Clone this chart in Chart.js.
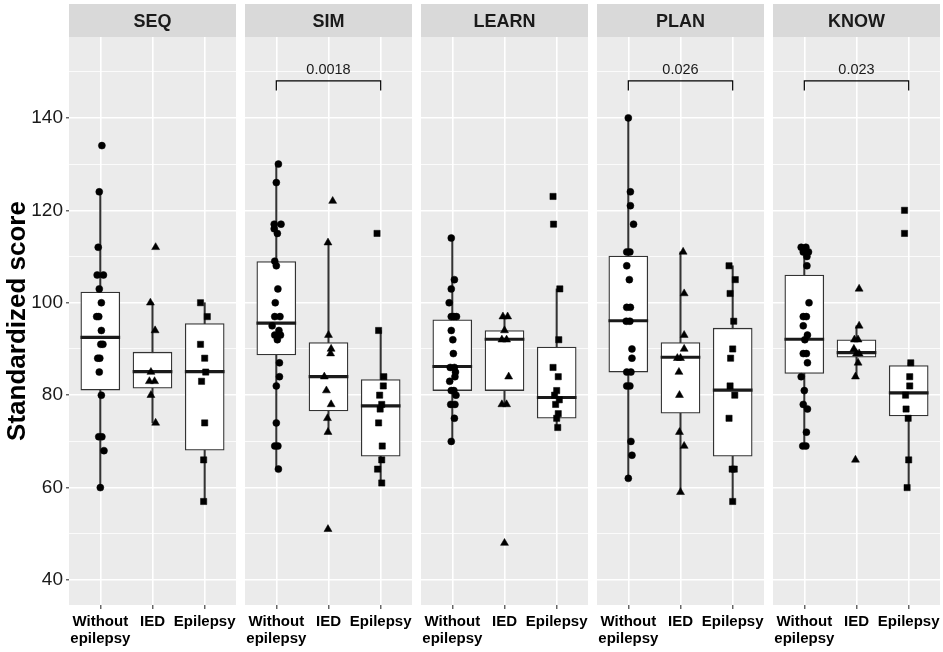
<!DOCTYPE html>
<html lang="en">
<head>
<meta charset="utf-8">
<title>Standardized scores by domain</title>
<script src="https://cdn.jsdelivr.net/npm/chart.js"></script>
<style>
  body { margin: 0; background: #fff; }
  #wrap { position: relative; width: 943px; height: 652px; overflow: hidden; }
  #wrap canvas { position: absolute; top: 0; }
</style>
</head>
<body>
<div id="wrap">
  <canvas id="p0" width="246" height="652" style="left:0px"></canvas>
  <canvas id="p1" width="187" height="652" style="left:235px"></canvas>
  <canvas id="p2" width="187" height="652" style="left:411px"></canvas>
  <canvas id="p3" width="187" height="652" style="left:587px"></canvas>
  <canvas id="p4" width="187" height="652" style="left:763px"></canvas>
</div>
<script>
// facets and groups
const panelNames = ['SEQ', 'SIM', 'LEARN', 'PLAN', 'KNOW'];
const groupLabels = [['Without', 'epilepsy'], 'IED', 'Epilepsy'];
const yTickValues = [40, 50, 60, 70, 80, 90, 100, 110, 120, 130, 140, 150];
const pValues = ['', '0.0018', '', '0.026', '0.023'];
const bracketLevel = 148;

// individual scores per facet, with their horizontal jitter
const withoutScores = [
  [134, 124, 112, 106, 106, 103, 100, 97, 97, 94, 91, 91, 88, 88, 85, 80, 71, 71, 68, 60],
  [130, 126, 117, 117, 116, 115, 109, 108, 103, 100, 97, 97, 95, 94, 93, 93, 92, 87, 84, 82, 74, 69, 69, 64],
  [114, 105, 103, 100, 97, 97, 97, 94, 92, 89, 86, 86, 85, 84, 83, 81, 81, 80, 78, 78, 75, 70],
  [140, 124, 121, 117, 111, 111, 108, 105, 99, 99, 96, 96, 90, 88, 85, 85, 82, 82, 70, 67, 62],
  [112, 112, 111, 111, 110, 108, 100, 97, 97, 95, 93, 92, 89, 89, 87, 84, 81, 78, 77, 72, 69, 69]
];
const withoutJitter = [
  [0.03, -0.02, -0.04, -0.06, 0.06, -0.02, 0.02, -0.07, -0.03, 0.02, 0.05, 0.01, -0.05, -0.01, -0.02, 0.02, -0.03, 0.03, 0.07, 0],
  [0.04, 0, -0.04, 0.09, -0.04, 0.02, -0.03, 0, 0.03, -0.02, -0.03, 0.07, -0.08, 0.05, -0.03, 0.08, 0.02, 0.06, 0.06, 0, 0, -0.03, 0.03, 0.04],
  [-0.02, 0.04, -0.02, -0.06, -0.02, 0.03, 0.08, -0.02, 0.01, 0.02, -0.04, 0.04, 0.06, 0.05, -0.05, -0.02, 0.03, 0.07, -0.03, 0.05, 0.04, -0.02],
  [0, 0.04, 0.04, 0.1, -0.03, 0.03, -0.03, 0.02, -0.03, 0.04, -0.04, 0.03, 0.07, 0.07, -0.03, 0.05, -0.03, 0.03, 0.05, 0.07, 0],
  [-0.06, 0.03, -0.02, 0.08, 0.05, 0.05, 0.09, -0.02, 0.04, -0.02, 0.06, 0.01, -0.02, 0.04, 0.06, -0.06, 0, -0.02, 0.06, 0.04, -0.03, 0.03]
];
const iedScores = [
  [112, 100, 94, 85, 83, 83, 80, 74],
  [122, 113, 93, 90, 89, 84, 81, 78, 75, 72, 51],
  [97, 97, 94, 92, 92, 84, 78, 78, 48],
  [111, 102, 93, 90, 88, 88, 85, 80, 72, 69, 59],
  [103, 95, 92, 92, 90, 89, 89, 87, 84, 66]
];
const iedJitter = [
  [0.06, -0.04, 0.05, -0.03, -0.06, 0.04, -0.03, 0.06],
  [0.08, -0.01, 0, 0.05, 0.04, -0.08, -0.04, 0.05, -0.02, -0.01, -0.01],
  [-0.03, 0.06, 0, -0.05, 0.04, 0.08, -0.05, 0.04, 0],
  [0.05, 0.07, 0.07, 0.07, -0.06, 0, -0.03, -0.02, -0.02, 0.07, 0],
  [0.05, 0.05, -0.04, 0.03, -0.05, 0, 0.05, 0.03, -0.02, -0.02]
];
const epilepsyScores = [
  [100, 97, 91, 88, 85, 83, 74, 66, 57],
  [115, 94, 84, 82, 80, 78, 77, 74, 69, 66, 64, 61],
  [123, 117, 103, 92, 86, 84, 81, 80, 79, 78, 76, 75, 73],
  [108, 105, 102, 96, 90, 88, 82, 80, 75, 64, 64, 57],
  [120, 115, 87, 84, 82, 80, 77, 75, 66, 60]
];
const epilepsyJitter = [
  [-0.08, 0.05, -0.08, 0, 0.02, -0.06, 0, -0.02, -0.02],
  [-0.07, -0.04, 0.06, 0.05, -0.02, 0.02, -0.01, -0.04, 0.03, 0.02, -0.06, 0.02],
  [-0.07, -0.06, 0.06, 0.04, -0.07, 0.03, 0, -0.04, 0.05, -0.02, 0.03, 0, 0.02],
  [-0.07, 0.05, -0.05, 0.02, 0, -0.04, -0.05, 0.04, -0.07, -0.01, 0.03, 0],
  [-0.08, -0.08, 0.04, 0.02, 0.02, -0.06, -0.05, -0.01, 0, -0.03]
];

// box statistics [lower whisker, q1, median, q3, upper whisker]
const withoutBox = [[60, 81.1, 92.5, 102.3, 124], [64, 88.7, 95.6, 108.9, 130], [70, 81, 86.2, 96.3, 114], [62, 85, 96.1, 110.1, 140], [69, 84.7, 92.1, 106, 112]];
const iedBox = [[74, 81.5, 85.1, 89.3, 100], [72, 76.6, 84, 91.4, 113], [78, 81, 92.1, 94, 97], [59, 76.1, 88.2, 91.4, 111], [84, 88.2, 89.2, 92, 95]];
const epilepsyBox = [[57, 68.1, 85.1, 95.5, 100], [61, 66.8, 77.7, 83.4, 94], [73, 75, 79.5, 90.4, 103], [57, 66.8, 81.1, 94.5, 108], [60, 75.5, 80.5, 86.4, 87]];

Chart.defaults.font.family = "'Liberation Sans', Arial, sans-serif";
Chart.defaults.color = '#1a1a1a';

const shapes = ['circle', 'triangle', 'rect'];
const radii = [3.5, 4.6, 4.4];

// grey panel + strip behind everything
const panelBg = {
  id: 'panelBg',
  beforeDraw(chart) {
    const a = chart.chartArea, ctx = chart.ctx;
    ctx.save();
    ctx.fillStyle = '#EBEBEB';
    ctx.fillRect(a.left, a.top, a.right - a.left, a.bottom - a.top);
    ctx.fillStyle = '#D9D9D9';
    ctx.fillRect(a.left, 4, a.right - a.left, a.top - 4);
    ctx.restore();
  }
};

function bracketPlugin(label) {
  return {
    id: 'bracket',
    afterDatasetsDraw(chart) {
      if (!label) return;
      const x = chart.scales.x, y = chart.scales.y, ctx = chart.ctx;
      const x1 = x.getPixelForValue(1), x3 = x.getPixelForValue(3);
      const yTop = y.getPixelForValue(bracketLevel), yEnd = y.getPixelForValue(bracketLevel - 2.1);
      ctx.save();
      ctx.strokeStyle = '#000';
      ctx.lineWidth = 1.2;
      ctx.beginPath();
      ctx.moveTo(x1, yEnd); ctx.lineTo(x1, yTop); ctx.lineTo(x3, yTop); ctx.lineTo(x3, yEnd);
      ctx.stroke();
      ctx.fillStyle = '#1a1a1a';
      ctx.font = "14.5px 'Liberation Sans', Arial, sans-serif";
      ctx.textAlign = 'center';
      ctx.textBaseline = 'middle';
      ctx.fillText(label, (x1 + x3) / 2, y.getPixelForValue(bracketLevel + 2.3));
      ctx.restore();
    }
  };
}

function makePanel(i) {
  const first = i === 0;
  const boxes = [withoutBox[i], iedBox[i], epilepsyBox[i]];
  const scores = [withoutScores[i], iedScores[i], epilepsyScores[i]];
  const jitter = [withoutJitter[i], iedJitter[i], epilepsyJitter[i]];

  const pointSets = scores.map((vals, g) => ({
    type: 'scatter',
    order: 0,
    data: vals.map((v, k) => ({ x: g + 1 + jitter[g][k], y: v })),
    pointStyle: shapes[g],
    pointRadius: radii[g],
    backgroundColor: '#000',
    borderColor: '#000',
    borderWidth: 0.5
  }));

  const datasets = [
    ...pointSets,
    {
      type: 'bar', order: 2, grouped: false, barThickness: 39,
      data: boxes.map((b, g) => ({ x: g + 1, y: [b[2] - 0.27, b[2] + 0.27] })),
      backgroundColor: '#1a1a1a'
    },
    {
      type: 'bar', order: 3, grouped: false, barThickness: 39,
      data: boxes.map((b, g) => ({ x: g + 1, y: [b[1], b[3]] })),
      backgroundColor: '#ffffff', borderColor: '#333333', borderWidth: 1.3, borderSkipped: false
    },
    {
      type: 'bar', order: 4, grouped: false, barThickness: 1.4,
      data: boxes.map((b, g) => ({ x: g + 1, y: [b[0], b[4]] })),
      backgroundColor: '#333333'
    }
  ];

  new Chart(document.getElementById('p' + i), {
    type: 'bar',
    data: { datasets },
    plugins: [panelBg, bracketPlugin(pValues[i])],
    options: {
      responsive: false,
      animation: false,
      events: [],
      layout: { padding: { top: 4, bottom: 0, left: first ? 0 : 10, right: 10 } },
      plugins: {
        legend: { display: false },
        tooltip: { enabled: false },
        title: {
          display: true, text: panelNames[i], fullSize: false,
          color: '#1a1a1a', font: { size: 18, weight: 'bold' },
          padding: { top: 7, bottom: 4.4 }
        }
      },
      scales: {
        x: {
          type: 'linear', min: 0.4, max: 3.6, offset: false,
          afterBuildTicks: s => { s.ticks = [1, 2, 3].map(v => ({ value: v })); },
          afterFit: s => { s.height = 47; },
          border: { display: false },
          grid: { offset: false, color: '#ffffff', lineWidth: 1.6, tickColor: '#333333', tickLength: 4, tickWidth: 1.1 },
          ticks: {
            autoSkip: false, maxRotation: 0, minRotation: 0, padding: 4,
            color: '#000', font: { size: 15, weight: 'bold', lineHeight: 1.13 },
            callback: v => groupLabels[v - 1]
          }
        },
        y: {
          min: 34.6, max: 157.5,
          afterBuildTicks: s => { s.ticks = yTickValues.map(v => ({ value: v })); },
          afterFit: s => { s.width = first ? 69 : 0; },
          border: { display: false },
          grid: {
            color: '#ffffff',
            lineWidth: c => (c.tick && c.tick.value % 20 === 0 ? 1.6 : 0.8),
            drawTicks: first,
            tickLength: 3,
            tickWidth: 1.1,
            tickColor: c => (c.tick && c.tick.value % 20 === 0 ? '#333333' : 'rgba(0,0,0,0)')
          },
          ticks: {
            display: first, padding: 3, color: '#1a1a1a', font: { size: 19 },
            callback: v => (v % 20 === 0 ? v : '')
          },
          title: {
            display: first, text: 'Standardized score', color: '#000',
            font: { size: 26, weight: 'bold' }, padding: { top: 2, bottom: 0 }
          }
        }
      }
    }
  });
}

panelNames.forEach((_, i) => makePanel(i));
</script>
</body>
</html>
